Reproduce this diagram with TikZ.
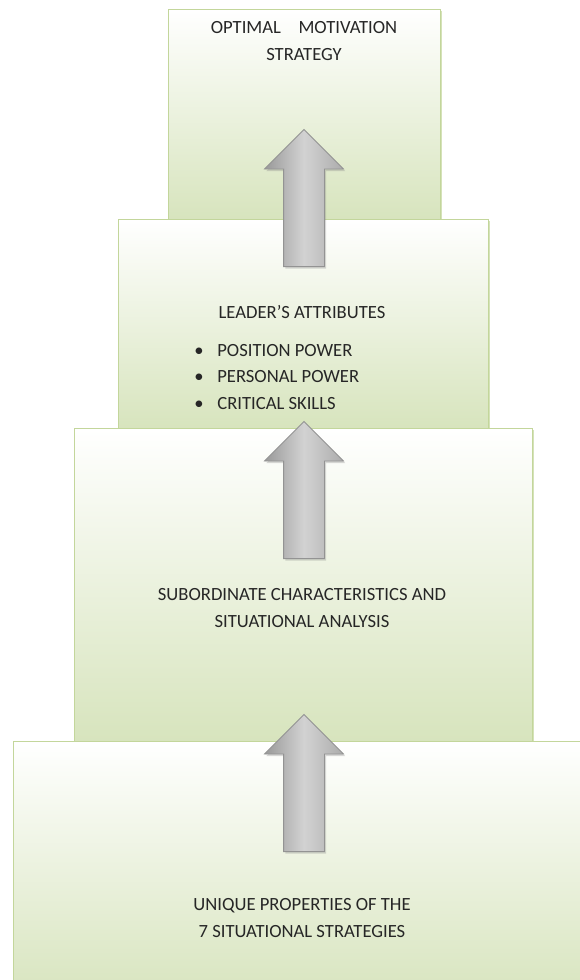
\documentclass[tikz,border=0pt]{standalone}
\usepackage{fontspec}
\setmainfont{Carlito}
\usetikzlibrary{shapes.arrows,shadows}
\definecolor{boxgreen}{HTML}{D7E4BD}
\definecolor{boxline}{HTML}{C3D69B}
\definecolor{txtgray}{HTML}{262626}

\begin{document}
\begin{tikzpicture}[
    x=0.02cm, y=-0.02cm,
    box/.style = {rectangle, draw=boxline, line width=0.8pt, anchor=north west, inner sep=0, top color=white, bottom color=boxgreen, drop shadow={shadow xshift=0.8pt, shadow yshift=-0.8pt, fill=boxline, opacity=0.7}},
    label/.style = {font=\fontsize{10.6}{15.3}\selectfont, text=txtgray, align=center, inner sep=0},
    uparrow/.style = {single arrow, shape border rotate=90, anchor=tail, draw=gray!85, line width=0.5pt, minimum height=2.74cm, minimum width=1.56cm, single arrow head extend=0.38cm, inner sep=0.4cm, left color=gray!80, right color=gray!65, middle color=gray!35, drop shadow={shadow xshift=1pt, shadow yshift=-1.2pt, opacity=0.3}}
]
    \useasboundingbox (0,0) rectangle (579,980);
    % stacked levels, top to bottom
    \node[box, minimum width=5.44cm, minimum height=4.2cm] (strategy) at (168,9) {};
    \node[box, minimum width=7.4cm, minimum height=4.18cm] (attributes) at (118,219) {};
    \node[box, minimum width=9.16cm, minimum height=6.26cm] (analysis) at (74,428) {};
    \node[box, minimum width=12cm, minimum height=5.2cm] (properties) at (13,741) {};
    % block arrows
    \node[uparrow] (up1) at (304,267) {};
    \node[uparrow] (up2) at (304,559) {};
    \node[uparrow] (up3) at (304,852) {};
    % texts
    \node[label] (strategytxt) at (304,41) {OPTIMAL\hspace{10pt}MOTIVATION\\STRATEGY};
    \node[label] (attributestxt) at (302,312) {LEADER’S ATTRIBUTES};
    \node[label, anchor=west, align=left] (attributeslist) at (194,377) {\makebox[0.46cm][l]{\textbullet}POSITION POWER\\\makebox[0.46cm][l]{\textbullet}PERSONAL POWER\\\makebox[0.46cm][l]{\textbullet}CRITICAL SKILLS};
    \node[label] (analysistxt) at (302,608) {SUBORDINATE CHARACTERISTICS AND\\SITUATIONAL ANALYSIS};
    \node[label] (propertiestxt) at (302,918) {UNIQUE PROPERTIES OF THE\\7 SITUATIONAL STRATEGIES};
\end{tikzpicture}
\end{document}
